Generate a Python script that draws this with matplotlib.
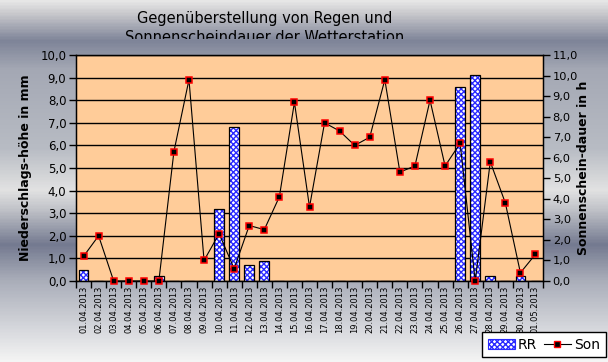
import numpy as np
import matplotlib
matplotlib.use("Agg")
import matplotlib.pyplot as plt
from matplotlib.colors import LinearSegmentedColormap
from matplotlib.ticker import FuncFormatter, MultipleLocator, FixedLocator
from matplotlib.transforms import Bbox
from matplotlib.patches import Patch
from matplotlib.lines import Line2D

# Daten
tage = ["01.04.2013", "02.04.2013", "03.04.2013", "04.04.2013", "05.04.2013",
        "06.04.2013", "07.04.2013", "08.04.2013", "09.04.2013", "10.04.2013",
        "11.04.2013", "12.04.2013", "13.04.2013", "14.04.2013", "15.04.2013",
        "16.04.2013", "17.04.2013", "18.04.2013", "19.04.2013", "20.04.2013",
        "21.04.2013", "22.04.2013", "23.04.2013", "24.04.2013", "25.04.2013",
        "26.04.2013", "27.04.2013", "28.04.2013", "29.04.2013", "30.04.2013",
        "01.05.2013"]
regen = [0.5, 0.0, 0.0, 0.0, 0.0, 0.2, 0.0, 0.0, 0.0, 3.2,
         6.8, 0.7, 0.9, 0.0, 0.0, 0.0, 0.0, 0.0, 0.0, 0.0,
         0.0, 0.0, 0.0, 0.0, 0.0, 8.6, 9.1, 0.2, 0.0, 0.2, 0.0]
sonne = [1.2, 2.2, 0.0, 0.0, 0.0, 0.0, 6.3, 9.8, 1.0, 2.3,
         0.6, 2.7, 2.5, 4.1, 8.7, 3.6, 7.7, 7.3, 6.6, 7.0,
         9.8, 5.3, 5.6, 8.8, 5.6, 6.7, 0.0, 5.8, 3.8, 0.4, 1.3]

fig = plt.figure(figsize=(6.08, 3.62), dpi=100)

# Hintergrund mit Verlauf (von oben nach unten)
bg = fig.add_axes([0, 0, 1, 1], zorder=-10)
stops = [(0.0, "#e6e6e6"), (0.035, "#c8c8cc"), (0.11, "#7e8498"), (0.19, "#a4a8b4"),
         (0.41, "#b8bcc4"), (0.525, "#e2e2e2"), (0.58, "#c0c2c8"), (0.677, "#747a90"),
         (0.773, "#a8acb8"), (1.0, "#f4f4f4")]
cmap = LinearSegmentedColormap.from_list("verlauf", stops)
grad = np.linspace(0, 1, 362).reshape(-1, 1)
bg.imshow(grad, aspect="auto", cmap=cmap, origin="upper", extent=[0, 1, 0, 1])
bg.axis("off")

ax = fig.add_axes([76 / 608, 1 - 281 / 362, (543 - 76) / 608, (281 - 55) / 362])
ax.set_facecolor("#ffcc99")
x = np.arange(len(tage))

ax.set_axisbelow(True)
ax.yaxis.grid(True, color="black", linewidth=1)
ax.bar(x, regen, width=0.65, color="white", edgecolor="#2a2aff", linewidth=0,
       hatch="xxxxxx", zorder=2)
ax.bar(x, regen, width=0.65, fill=False, edgecolor="black", linewidth=0.9, zorder=3)

ax.set_xlim(-0.5, len(tage) - 0.5)
ax.set_ylim(0, 10)
ax.yaxis.set_major_locator(MultipleLocator(1))
komma = FuncFormatter(lambda v, p: f"{v:.1f}".replace(".", ","))
ax.yaxis.set_major_formatter(komma)
ax.set_xticks(x)
ax.set_xticklabels(tage, rotation=90, fontsize=6)
ax.tick_params(axis="x", which="major", length=0, pad=3)
ax.xaxis.set_minor_locator(FixedLocator(np.arange(len(tage) + 1) - 0.5))
ax.tick_params(axis="x", which="minor", length=5, width=1, color="black")
ax.tick_params(axis="y", length=5, width=1, labelsize=8.5, pad=2)
for s in ax.spines.values():
    s.set_color("black")
    s.set_linewidth(1)
ax.set_ylabel("Niederschlags-höhe in mm", fontsize=9, fontweight="bold", labelpad=6)

ax2 = ax.twinx()
ax2.plot(x, sonne, color="black", linewidth=0.8, marker="s", markersize=5,
         markerfacecolor="black", markeredgecolor="red", markeredgewidth=1.1,
         zorder=5, clip_on=False)
ax2.set_ylim(0, 11)
ax2.yaxis.set_major_locator(MultipleLocator(1))
ax2.yaxis.set_major_formatter(komma)
ax2.tick_params(axis="y", length=5, width=1, labelsize=8.2, pad=2)
ax2.set_ylabel("Sonnenschein-dauer in h", fontsize=9, fontweight="bold", labelpad=-1)

# Titel, zweite Zeile wird unten abgeschnitten
t1 = fig.text(265 / 608, 1 - 23 / 362, "Gegenüberstellung von Regen und",
              ha="center", va="baseline", fontsize=10.5)
t2 = fig.text(265 / 608, 1 - 42 / 362, "Sonnenscheindauer der Wetterstation",
              ha="center", va="baseline", fontsize=10.5)
t2.set_clip_box(Bbox([[0, 362 - 39], [608, 362]]))
t2.set_clip_on(True)

handles = [Patch(facecolor="white", edgecolor="#2a2aff", hatch="xxxxxx", linewidth=0.8),
           Line2D([0], [0], color="black", linewidth=0.8, marker="s", markersize=5,
                  markerfacecolor="black", markeredgecolor="red")]
leg = fig.legend(handles, ["RR", "Son"], loc="upper left", bbox_to_anchor=(482 / 608, 1 - 332 / 362),
                 borderaxespad=0, ncol=2, fontsize=10, frameon=True, fancybox=False,
                 edgecolor="black", framealpha=1, borderpad=0.4, handlelength=1.95,
                 columnspacing=0.45, handletextpad=0.25)
leg.get_frame().set_linewidth(1)

fig.savefig("out.png", dpi=100)
